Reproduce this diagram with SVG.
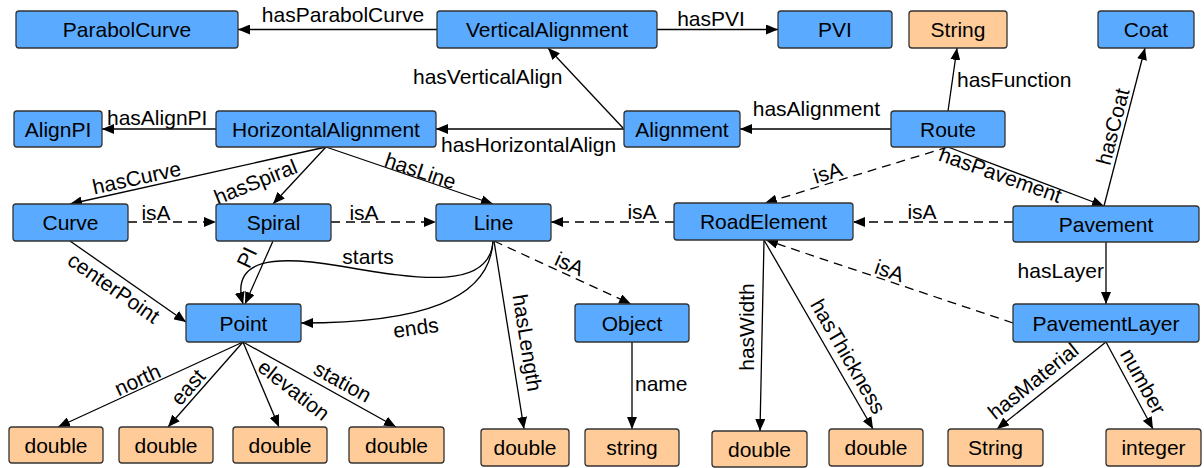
<svg xmlns="http://www.w3.org/2000/svg" width="1204" height="468" viewBox="0 0 1204 468">
<defs>
<marker id="arr" viewBox="0 0 12 10" refX="12" refY="5" markerWidth="12" markerHeight="10" markerUnits="userSpaceOnUse" orient="auto"><path d="M0,0 L12,5 L0,10 z" fill="#000"/></marker>
<style>
.b rect{fill:#5aabff;stroke:#333;stroke-width:1.3}
.o rect{fill:#ffcc99;stroke:#333;stroke-width:1.3}
text{font-family:"Liberation Sans",Arial,sans-serif;font-size:21px;fill:#000}
.nt{text-anchor:middle}
.e path{fill:none;stroke:#000;stroke-width:1.3;marker-end:url(#arr)}
.e path.d{stroke-dasharray:9,6}
.lm{text-anchor:middle}
.le{text-anchor:end}
</style>
</defs>
<rect width="1204" height="468" fill="#fff"/>
<g id="connectors" class="e">
<path d="M437,29.5 L238,29.5"/>
<path d="M657,29.5 L778,29.5"/>
<path d="M623,128 L548,48"/>
<path d="M624,129 L436,129"/>
<path d="M891,129 L740,129"/>
<path d="M948,111 L957,48"/>
<path d="M1104,206 L1145,48"/>
<path d="M948,147 L1104,206"/>
<path class="d" d="M948,147 L765,203"/>
<path class="d" d="M1013,222 L853,222"/>
<path class="d" d="M1013,323 L766,240"/>
<path class="d" d="M674,222 L551,222"/>
<path d="M1106,242 L1106,304"/>
<path d="M764,240 L760,431"/>
<path d="M764,240 L873,429"/>
<path d="M1106,342 L997,429"/>
<path d="M1106,342 L1153,429"/>
<path d="M216,129 L102,129"/>
<path d="M326,147 L70,204"/>
<path d="M326,147 L273,204"/>
<path d="M326,147 L493,204"/>
<path class="d" d="M128,222 L216,222"/>
<path class="d" d="M331,222 L436,222"/>
<path class="d" d="M494,241 L631,304"/>
<path d="M70,241 L186,322"/>
<path d="M273,241 L245,304"/>
<path d="M493,241 C490,290 420,280 340,266 C275,255 230,258 243,304"/>
<path d="M493,241 C490,300 420,323 301,323"/>
<path d="M494,241 L524,429"/>
<path d="M632,342 L632,429"/>
<path d="M243,342 L58,427"/>
<path d="M243,342 L168,427"/>
<path d="M243,342 L279,427"/>
<path d="M243,342 L396,427"/>
</g>
<g id="labels">
<text class="lm" x="343" y="22">hasParabolCurve</text>
<text class="lm" x="711" y="26">hasPVI</text>
<text x="413" y="84">hasVerticalAlign</text>
<text x="441" y="152">hasHorizontalAlign</text>
<text class="le" x="880" y="116">hasAlignment</text>
<text x="957" y="87">hasFunction</text>
<text x="107" y="125">hasAlignPI</text>
<text class="lm" x="1114" y="133" transform="rotate(-75.4 1114 127)">hasCoat</text>
<text class="lm" x="1000" y="182" transform="rotate(19.5 1000 176)">hasPavement</text>
<text class="lm" x="828" y="180" transform="rotate(-16.7 828 174)">isA</text>
<text class="lm" x="922" y="219">isA</text>
<text class="lm" x="642" y="219">isA</text>
<text class="lm" x="889" y="278" transform="rotate(18.3 889 272)">isA</text>
<text class="le" x="1104" y="278">hasLayer</text>
<text class="lm" x="748" y="333" transform="rotate(-90 748 327)">hasWidth</text>
<text class="lm" x="847" y="363" transform="rotate(60 847 357)">hasThickness</text>
<text class="lm" x="1034" y="388" transform="rotate(-38.5 1034 382)">hasMaterial</text>
<text class="lm" x="1142" y="388" transform="rotate(61 1142 382)">number</text>
<text class="lm" x="137" y="185" transform="rotate(-12.3 137 179)">hasCurve</text>
<text class="lm" x="256" y="189" transform="rotate(-22 256 183)">hasSpiral</text>
<text class="lm" x="420" y="178" transform="rotate(18.5 420 172)">hasLine</text>
<text class="lm" x="156" y="220">isA</text>
<text class="lm" x="364" y="220">isA</text>
<text class="lm" x="569" y="271" transform="rotate(24 569 265)">isA</text>
<text class="lm" x="113" y="295" transform="rotate(34.8 113 289)">centerPoint</text>
<text class="lm" x="248" y="264" transform="rotate(-65 248 258)">PI</text>
<text class="lm" x="368" y="264">starts</text>
<text class="lm" x="416" y="335" transform="rotate(-8 416 329)">ends</text>
<text class="lm" x="526" y="349" transform="rotate(81 526 343)">hasLength</text>
<text x="635" y="391">name</text>
<text class="lm" x="138" y="387" transform="rotate(-24.9 138 381)">north</text>
<text class="lm" x="189" y="394" transform="rotate(-48.6 189 388)">east</text>
<text class="lm" x="293" y="397" transform="rotate(38 293 391)">elevation</text>
<text class="lm" x="342" y="389" transform="rotate(29 342 383)">station</text>
</g>
<g id="ParabolCurve" class="b"><rect x="16" y="11" width="222" height="37" rx="3"/><text class="nt" x="127" y="37">ParabolCurve</text></g>
<g id="VerticalAlignment" class="b"><rect x="437" y="11" width="220" height="37" rx="3"/><text class="nt" x="547" y="37">VerticalAlignment</text></g>
<g id="PVI" class="b"><rect x="778" y="11" width="114" height="37" rx="3"/><text class="nt" x="835" y="37">PVI</text></g>
<g id="StringFunction" class="o"><rect x="909" y="11" width="98" height="37" rx="3"/><text class="nt" x="958" y="37">String</text></g>
<g id="Coat" class="b"><rect x="1098" y="11" width="96" height="37" rx="3"/><text class="nt" x="1146" y="37">Coat</text></g>
<g id="AlignPI" class="b"><rect x="14" y="111" width="88" height="36" rx="3"/><text class="nt" x="58" y="136.5">AlignPI</text></g>
<g id="HorizontalAlignment" class="b"><rect x="216" y="111" width="220" height="36" rx="3"/><text class="nt" x="326" y="136.5">HorizontalAlignment</text></g>
<g id="Alignment" class="b"><rect x="624" y="111" width="116" height="36" rx="3"/><text class="nt" x="682" y="136.5">Alignment</text></g>
<g id="Route" class="b"><rect x="891" y="111" width="114" height="36" rx="3"/><text class="nt" x="948" y="136.5">Route</text></g>
<g id="Curve" class="b"><rect x="13" y="204" width="115" height="37" rx="3"/><text class="nt" x="70.5" y="230">Curve</text></g>
<g id="Spiral" class="b"><rect x="216" y="204" width="115" height="37" rx="3"/><text class="nt" x="273.5" y="230">Spiral</text></g>
<g id="Line" class="b"><rect x="436" y="204" width="115" height="37" rx="3"/><text class="nt" x="493.5" y="230">Line</text></g>
<g id="RoadElement" class="b"><rect x="674" y="203" width="179" height="37" rx="3"/><text class="nt" x="763.5" y="229">RoadElement</text></g>
<g id="Pavement" class="b"><rect x="1013" y="206" width="186" height="36" rx="3"/><text class="nt" x="1106" y="231.5">Pavement</text></g>
<g id="Point" class="b"><rect x="186" y="304" width="115" height="38" rx="3"/><text class="nt" x="243.5" y="330.5">Point</text></g>
<g id="Object" class="b"><rect x="575" y="304" width="114" height="38" rx="3"/><text class="nt" x="632" y="330.5">Object</text></g>
<g id="PavementLayer" class="b"><rect x="1013" y="304" width="186" height="38" rx="3"/><text class="nt" x="1106" y="330.5">PavementLayer</text></g>
<g id="doubleNorth" class="o"><rect x="9" y="427" width="94" height="36" rx="3"/><text class="nt" x="56" y="452.5">double</text></g>
<g id="doubleEast" class="o"><rect x="119" y="427" width="94" height="36" rx="3"/><text class="nt" x="166" y="452.5">double</text></g>
<g id="doubleElevation" class="o"><rect x="233" y="427" width="94" height="36" rx="3"/><text class="nt" x="280" y="452.5">double</text></g>
<g id="doubleStation" class="o"><rect x="349" y="427" width="95" height="36" rx="3"/><text class="nt" x="396.5" y="452.5">double</text></g>
<g id="doubleLength" class="o"><rect x="481" y="429" width="88" height="37" rx="3"/><text class="nt" x="525" y="455">double</text></g>
<g id="stringName" class="o"><rect x="585" y="429" width="94" height="37" rx="3"/><text class="nt" x="632" y="455">string</text></g>
<g id="doubleWidth" class="o"><rect x="712" y="431" width="95" height="36" rx="3"/><text class="nt" x="759.5" y="456.5">double</text></g>
<g id="doubleThickness" class="o"><rect x="829" y="429" width="94" height="37" rx="3"/><text class="nt" x="876" y="455">double</text></g>
<g id="StringMaterial" class="o"><rect x="948" y="429" width="95" height="37" rx="3"/><text class="nt" x="995.5" y="455">String</text></g>
<g id="integer" class="o"><rect x="1106" y="429" width="95" height="37" rx="3"/><text class="nt" x="1153.5" y="455">integer</text></g>
</svg>
